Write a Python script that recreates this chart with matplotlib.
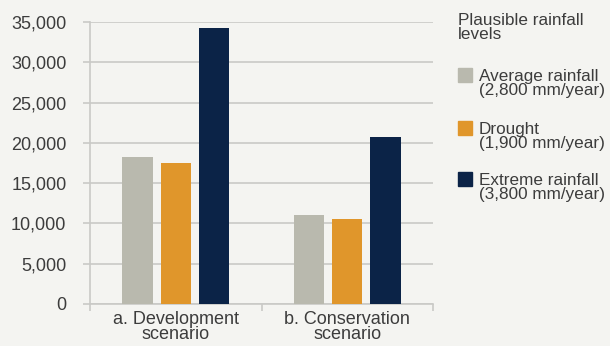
import matplotlib
matplotlib.use("Agg")
import matplotlib.pyplot as plt
import numpy as np
from matplotlib.patches import Rectangle

categories = ["a. Development\nscenario", "b. Conservation\nscenario"]
series_names = ["Average rainfall\n(2,800 mm/year)", "Drought\n(1,900 mm/year)", "Extreme rainfall\n(3,800 mm/year)"]
average = [18300, 11000]
drought = [17500, 10500]
extreme = [34200, 20700]
colors = ["#b9b9ae", "#e0962b", "#0b2347"]
yticks = [0, 5000, 10000, 15000, 20000, 25000, 30000, 35000]
legend_title = "Plausible rainfall\nlevels"

plt.rcParams['font.family'] = ['Liberation Sans', 'DejaVu Sans']
bg = "#f4f4f1"
txt = "#3c3c3c"
gridc = "#c9c9c6"
fs = 13
lfs = 12.3

fig = plt.figure(figsize=(6.1, 3.46), dpi=100, facecolor=bg)
ax = fig.add_axes([90/610, 42/346, 343/610, 282/346], facecolor=bg)

x = np.arange(len(categories))
w = 0.175
step = 0.223
for i, vals in enumerate([average, drought, extreme]):
    ax.bar(x + (i - 1) * step, vals, width=w, color=colors[i], zorder=3)

ax.set_xlim(-0.5, 1.5)
ax.set_ylim(0, 35000)
ax.set_yticks(yticks)
ax.set_yticklabels([f"{v:,}" for v in yticks], fontsize=fs, color=txt)
ax.yaxis.grid(True, color=gridc, linewidth=1.2, zorder=0)
ax.tick_params(axis='y', length=5, width=1.2, color=gridc, pad=12)
ax.set_xticks(x)
ax.set_xticklabels(categories, fontsize=fs, color=txt, linespacing=0.85)
ax.tick_params(axis='x', which='major', length=0, pad=5)
ax.set_xticks([-0.5, 0.5, 1.5], minor=True)
ax.tick_params(axis='x', which='minor', length=5, width=1.2, color=gridc)
for s in ['top', 'right']:
    ax.spines[s].set_visible(False)
for s in ['left', 'bottom']:
    ax.spines[s].set_color(gridc)
    ax.spines[s].set_linewidth(1.2)

# legend
fig.text(458/610, 1 - 13/346, legend_title, fontsize=lfs, color=txt, va='top', ha='left', linespacing=0.92)
sq_tops = [68, 121, 172]
for i, name in enumerate(series_names):
    t = sq_tops[i]
    fig.patches.append(Rectangle((458/610, 1 - (t + 14)/346), 14/610, 14/346,
                                 transform=fig.transFigure, color=colors[i]))
    fig.text(479/610, 1 - (t + 1)/346, name, fontsize=lfs, color=txt, va='top', ha='left', linespacing=0.92)

fig.savefig("out.png", dpi=100, facecolor=bg)
